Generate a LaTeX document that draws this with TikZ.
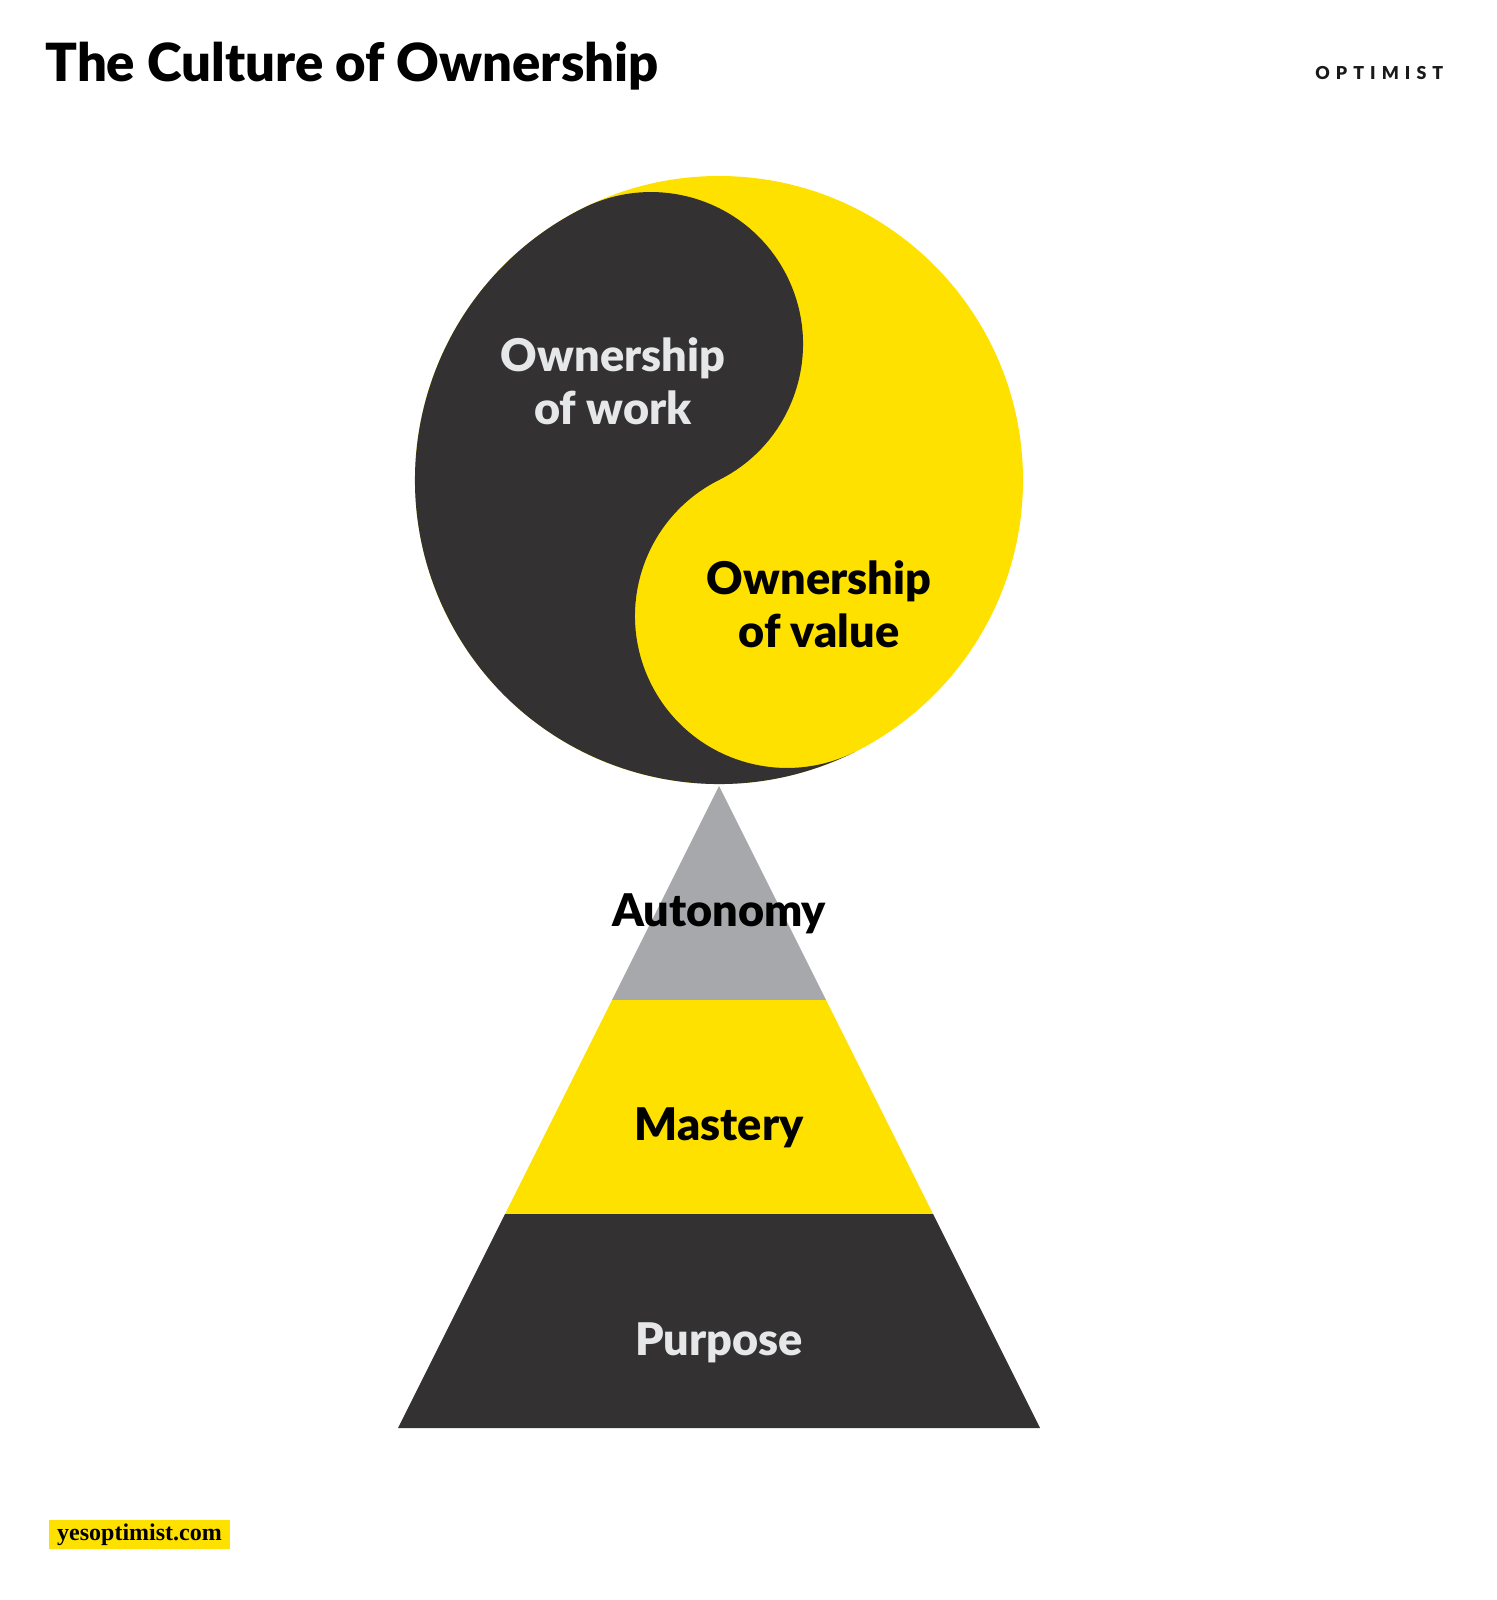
\documentclass[tikz,border=0pt]{standalone}
\usepackage{fontspec}
\setmainfont{Lato}
\newfontfamily\heavyfont{Lato Black}
\newfontfamily\brandfont{Lato Black}[LetterSpace=34]
\newfontfamily\sitefont{Liberation Serif}
\usepackage{xcolor}
\usetikzlibrary{positioning, calc}

\definecolor{inkdark}{HTML}{333132}
\definecolor{optyellow}{HTML}{FFE100}
\definecolor{pyrgrey}{HTML}{A7A8AB}
\definecolor{paletext}{HTML}{E6E7E8}

\begin{document}
\begin{tikzpicture}[
  x=0.5pt, y=0.5pt,
  headline/.style={
    anchor=base west, inner sep=0pt, text=black,
    font=\heavyfont\fontsize{26.3}{30}\selectfont},
  brand/.style={
    anchor=base west, inner sep=0pt, text=black!90,
    font=\brandfont\fontsize{8.9}{10}\selectfont},
  lobetext/.style={
    anchor=base, align=center, inner sep=0pt,
    font=\heavyfont\fontsize{22.5}{26.5}\selectfont},
  layertext/.style={
    anchor=base, inner sep=0pt,
    font=\heavyfont\fontsize{22.5}{26.5}\selectfont},
  sitetag/.style={
    fill=optyellow, inner sep=0pt,
    minimum width=90.5pt, minimum height=14.5pt,
    font=\sitefont\bfseries\fontsize{12}{14}\selectfont},
]

%% ---- Canvas ----
\fill[white] (0,0) rectangle (1497,-1600);
\useasboundingbox (0,0) rectangle (1497,-1600);

%% ---- Header ----
\node[headline] (title) at (45,-82) {The Culture of Ownership};
\node[brand] (logo) at (1315,-79.5) {OPTIMIST};

%% ---- Yin-yang circle ----
\coordinate (mid) at (719,-480);
\fill[optyellow] (mid) circle[radius=304];
\fill[inkdark] (mid) ++(116.57:304)
  arc[start angle=116.57, end angle=296.57, radius=304]
  arc[start angle=296.57, end angle=116.57, radius=152]
  arc[start angle=-63.43, end angle=116.57, radius=152] -- cycle;

% base anchor sits on the second line
\node[lobetext, text=paletext] (work) at (613,-424)
  {Ownership\\of work};
\node[lobetext, text=black] (value) at (819,-647)
  {Ownership\\of value};

%% ---- Pyramid ----
\coordinate (apex) at (719,-786);
\coordinate (l1) at (612,-1000);
\coordinate (r1) at (826,-1000);
\coordinate (l2) at (505,-1214);
\coordinate (r2) at (933,-1214);
\coordinate (l3) at (398,-1428);
\coordinate (r3) at (1040,-1428);

\fill[pyrgrey] (apex) -- (r1) -- (l1) -- cycle;
\fill[optyellow] (l1) -- (r1) -- (r2) -- (l2) -- cycle;
\fill[inkdark] (l2) -- (r2) -- (r3) -- (l3) -- cycle;

\node[layertext, text=black] (autonomy) at (719,-926) {Autonomy};
\node[layertext, text=black] (mastery) at (719,-1140) {Mastery};
\node[layertext, text=paletext] (purpose) at (719,-1355) {Purpose};

%% ---- Footer ----
\node[sitetag] (site) at (139.5,-1534.5) {yesoptimist.com};

\end{tikzpicture}
\end{document}
